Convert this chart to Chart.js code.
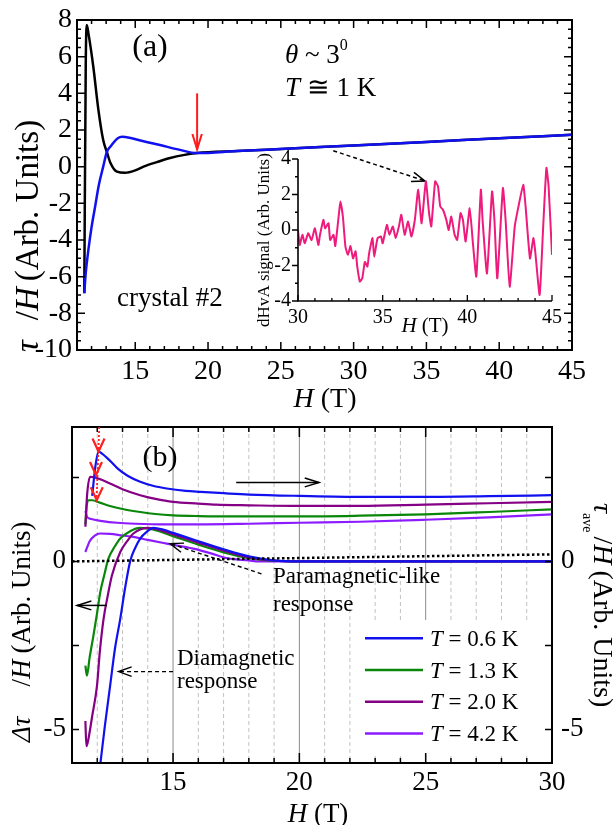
<!DOCTYPE html>
<html>
<head>
<meta charset="utf-8">
<script src="https://cdn.jsdelivr.net/npm/chart.js@4.4.1/dist/chart.umd.min.js"></script>
<style>
  html, body { margin: 0; padding: 0; background: #fff; }
  #wrap { position: relative; width: 614px; height: 825px; overflow: hidden; }
  canvas { position: absolute; }
</style>
</head>
<body>
<div id="wrap">
  <canvas id="cA" width="614" height="420" style="left:0;top:0"></canvas>
  <canvas id="cB" width="614" height="405" style="left:0;top:420px"></canvas>
  <canvas id="cI" width="330" height="200" style="left:240px;top:145px"></canvas>
</div>
<script>
// ---- panel (a): torque / H
const aBlackH = [11.5, 11.6, 11.67, 11.8, 12.12, 12.47, 12.8, 13.05, 13.3, 13.74, 14.3, 15, 15.57, 16.5, 17.4, 18.3, 19.25, 22, 26, 30, 35, 40, 45];
const aBlackV = [-6.9, 5.5, 7.73, 7.2, 5.45, 3.1, 1.45, 0.8, 0.2, -0.27, -0.33, -0.2, 0.0, 0.25, 0.47, 0.63, 0.74, 0.85, 1.0, 1.16, 1.35, 1.55, 1.74];
const aBlueH = [11.5, 11.6, 11.78, 12.0, 12.24, 12.5, 12.8, 13.05, 13.3, 13.8, 14.1, 14.6, 15.5, 16.7, 18, 19.25, 22, 26, 30, 35, 40, 45];
const aBlueV = [-6.9, -5.8, -4.55, -3.3, -2.2, -1.0, 0.0, 0.8, 1.1, 1.55, 1.63, 1.58, 1.4, 1.18, 0.93, 0.74, 0.85, 1.0, 1.16, 1.35, 1.55, 1.74];
const aXTicks = [15, 20, 25, 30, 35, 40, 45];
const aYTicks = [-10, -8, -6, -4, -2, 0, 2, 4, 6, 8];

// ---- inset: dHvA signal
const inH = [30, 30.1, 30.26, 30.4, 30.6, 30.8, 31.0, 31.2, 31.3, 31.5, 31.6, 31.8, 31.9, 32.1, 32.2, 32.4, 32.5, 32.65, 32.8, 32.95, 33.1, 33.25, 33.4, 33.5, 33.65, 33.8, 33.95, 34.1, 34.2, 34.4, 34.5, 34.7, 34.9, 35.0, 35.25, 35.4, 35.6, 35.77, 35.96, 36.1, 36.3, 36.5, 36.7, 36.9, 37.1, 37.3, 37.55, 37.74, 37.87, 38.1, 38.27, 38.4, 38.56, 38.76, 38.9, 39.05, 39.25, 39.4, 39.6, 39.74, 39.9, 40.14, 40.33, 40.53, 40.8, 40.9, 41.16, 41.46, 41.6, 41.77, 42.1, 42.26, 42.5, 42.8, 43.0, 43.3, 43.44, 43.7, 43.9, 44.0, 44.27, 44.47, 44.67, 44.8, 45.0];
const inV = [0.0, -0.84, -0.27, -0.75, -0.18, -0.56, 0.1, -0.84, -0.27, 0.57, 0.1, 0.38, -0.56, -0.27, -0.9, 0.76, 1.6, 0.76, -0.93, -1.4, -0.9, -1.6, -1.2, -2.06, -2.9, -2.7, -1.8, -2.06, -1.3, -0.46, -1.5, -0.46, -0.37, -0.75, 0.29, -0.27, 0.2, -0.46, 0.2, 0.86, -0.27, 0.48, -0.37, 0.57, 2.27, 0.38, 2.74, 0.95, 0.2, 2.74, 2.45, 1.33, 1.14, 0.57, 0.0, 0.76, -0.27, -0.56, 0.95, 0.57, -0.65, 1.23, -0.75, -2.63, 2.27, 0.57, -2.45, 2.17, 0.57, -2.72, 2.36, 0.57, -3.2, 0.2, 1.23, 2.55, 1.33, -1.6, -0.46, -1.12, -3.66, 0.0, 3.5, 2.45, -1.4];
const inXTicks = [30, 35, 40, 45];
const inYTicks = [-4, -2, 0, 2, 4];

// ---- panel (b): tau_ave/H (upper, right axis) and delta tau/H (lower, left axis)
const bTemps = ['0.6', '1.3', '2.0', '4.2'];
const up06H = [11.8, 11.92, 12.05, 12.2, 12.5, 12.8, 13.2, 13.7, 14.2, 14.75, 15.5, 16.1, 17, 18, 20, 22.5, 25, 27.5, 30];
const up06V = [1.95, 2.8, 3.27, 3.2, 3.0, 2.77, 2.55, 2.37, 2.25, 2.17, 2.1, 2.07, 2.03, 1.99, 1.95, 1.92, 1.92, 1.94, 1.97];
const up13H = [11.53, 11.58, 11.66, 11.8, 12.1, 12.5, 13, 13.7, 14.3, 15, 16, 18, 20, 22.4, 25, 27.5, 30];
const up13V = [1.1, 1.65, 1.82, 1.82, 1.75, 1.65, 1.56, 1.47, 1.41, 1.37, 1.35, 1.34, 1.34, 1.36, 1.4, 1.47, 1.55];
const up20H = [11.53, 11.6, 11.72, 11.9, 12.2, 12.5, 13.0, 13.7, 14.3, 15, 16, 16.7, 18, 20, 22.4, 25, 27.5, 30];
const up20V = [1.03, 2.0, 2.52, 2.5, 2.42, 2.32, 2.15, 1.97, 1.86, 1.77, 1.72, 1.69, 1.67, 1.65, 1.65, 1.69, 1.73, 1.77];
const up42H = [11.53, 11.6, 11.72, 12.2, 12.78, 13.5, 14.75, 16, 18, 20, 22.4, 25, 27.5, 30];
const up42V = [1.5, 1.32, 1.27, 1.2, 1.15, 1.12, 1.1, 1.1, 1.12, 1.15, 1.18, 1.24, 1.31, 1.4];
const dn06H = [12.08, 12.3, 12.51, 12.7, 12.91, 13.1, 13.3, 13.5, 13.7, 13.96, 14.22, 14.6, 15, 16, 17, 18, 19, 20, 25, 30];
const dn06V = [-6.3, -4.9, -3.7, -2.6, -1.71, -0.8, 0.0, 0.4, 0.68, 0.88, 1.0, 0.95, 0.85, 0.6, 0.36, 0.15, 0.03, 0, 0, 0];
const dn13H = [11.53, 11.59, 11.7, 11.85, 12.0, 12.12, 12.28, 12.44, 12.7, 12.91, 13.3, 13.7, 14.2, 15, 16, 17, 18, 19, 20, 25, 30];
const dn13V = [-3.1, -3.4, -2.85, -2.2, -1.5, -0.91, -0.4, 0.08, 0.45, 0.68, 0.9, 1.0, 0.95, 0.75, 0.5, 0.27, 0.1, 0.02, 0, 0, 0];
const dn20H = [11.53, 11.57, 11.62, 11.8, 11.99, 12.1, 12.25, 12.42, 12.58, 12.91, 13.2, 13.43, 14.02, 14.5, 15, 16, 17, 18, 19, 20, 25, 30];
const dn20V = [-4.75, -5.5, -5.4, -4.6, -3.7, -2.7, -1.71, -1.0, -0.42, 0.28, 0.62, 0.83, 1.0, 0.93, 0.8, 0.56, 0.32, 0.12, 0.02, 0, 0, 0];
const dn42H = [11.53, 11.7, 11.9, 12.12, 12.5, 13, 13.43, 14, 14.75, 15.8, 16.5, 17.1, 18, 18.4, 20, 25, 30];
const dn42V = [0.28, 0.6, 0.77, 0.83, 0.82, 0.77, 0.73, 0.64, 0.53, 0.38, 0.24, 0.1, 0.03, 0.0, 0, 0, 0];
const zeroH = [11, 30];
const zeroV = [0, 0.21];
const bXTicks = [15, 20, 25, 30];
const bYTicks = [-5, 0];

const SERIF = '"Liberation Serif", "DejaVu Serif", serif';
const F = (size, it) => (it ? 'italic ' : '') + size + 'px ' + SERIF;
const pts = (hs, vs) => hs.map((h, i) => ({ x: h, y: vs[i] }));
const seq = (a, b, st) => { const r = []; for (let v = a; v <= b + 1e-9; v += st) r.push(+v.toFixed(3)); return r; };

const BLUE = '#1111f0', GREEN = '#0a870a', PURPLE = '#850085', VIOLET = '#8c1cff';

Chart.defaults.font.family = SERIF;
Chart.defaults.color = '#000';

function axis(o) {
  return {
    type: 'linear', position: o.pos, min: o.min, max: o.max,
    grid: { display: false, drawTicks: false }, border: { display: false },
    afterBuildTicks: s => { s.ticks = o.labels.map(v => ({ value: v })); },
    afterFit: s => {
      if (o.w !== undefined) s.width = o.w;
      if (o.h !== undefined) s.height = o.h;
      // keep the plot area where we put it, labels may overhang
      s.paddingTop = 0; s.paddingBottom = 0; s.paddingLeft = 0; s.paddingRight = 0;
    },
    ticks: { font: { size: o.fs }, color: '#000', padding: o.pad, maxRotation: 0, autoSkip: false, callback: v => String(v) }
  };
}

function line(data, color, width, axisId) {
  return { data: data, borderColor: color, borderWidth: width, pointRadius: 0, fill: false,
           cubicInterpolationMode: 'monotone', yAxisID: axisId || 'y' };
}

function baseOpts(pad, scales) {
  return {
    responsive: false, animation: false, devicePixelRatio: 1,
    layout: { padding: pad },
    plugins: { legend: { display: false }, tooltip: { enabled: false } },
    events: [],
    scales: scales
  };
}

function rich(ctx, x, y, parts, rot, align) {
  ctx.save();
  ctx.translate(x, y);
  if (rot) ctx.rotate(rot);
  let w = 0;
  parts.forEach(p => { ctx.font = p.f; w += ctx.measureText(p.t).width + (p.gap || 0); });
  let cx = align === 'center' ? -w / 2 : 0;
  ctx.fillStyle = '#000';
  ctx.textBaseline = 'alphabetic';
  ctx.textAlign = 'left';
  parts.forEach(p => {
    ctx.font = p.f;
    ctx.fillText(p.t, cx, p.dy || 0);
    cx += ctx.measureText(p.t).width + (p.gap || 0);
  });
  ctx.restore();
}

function arrow(ctx, x1, y1, x2, y2, o) {
  ctx.save();
  ctx.strokeStyle = o.color || '#000';
  ctx.lineWidth = o.width || 1.5;
  ctx.setLineDash(o.dash || []);
  ctx.beginPath(); ctx.moveTo(x1, y1); ctx.lineTo(x2, y2); ctx.stroke();
  ctx.setLineDash([]);
  const a = Math.atan2(y2 - y1, x2 - x1), L = o.head || 13, s = o.spread || 0.33;
  ctx.beginPath();
  ctx.moveTo(x2 - L * Math.cos(a - s), y2 - L * Math.sin(a - s));
  ctx.lineTo(x2, y2);
  ctx.lineTo(x2 - L * Math.cos(a + s), y2 - L * Math.sin(a + s));
  ctx.stroke();
  ctx.restore();
}

function tickMarks(c, id, vals, len, sides) {
  const s = c.scales[id], a = c.chartArea, ctx = c.ctx;
  ctx.beginPath();
  vals.forEach(v => {
    const p = s.getPixelForValue(v);
    if (sides.includes('b')) { ctx.moveTo(p, a.bottom); ctx.lineTo(p, a.bottom - len); }
    if (sides.includes('t')) { ctx.moveTo(p, a.top); ctx.lineTo(p, a.top + len); }
    if (sides.includes('l')) { ctx.moveTo(a.left, p); ctx.lineTo(a.left + len, p); }
    if (sides.includes('r')) { ctx.moveTo(a.right, p); ctx.lineTo(a.right - len, p); }
  });
  ctx.stroke();
}

// ---------- panel (a)
const decorA = {
  id: 'decorA',
  afterDraw(c) {
    const ctx = c.ctx, a = c.chartArea, X = c.scales.x, Y = c.scales.y;
    const px = v => X.getPixelForValue(v), py = v => Y.getPixelForValue(v);
    ctx.save();
    ctx.strokeStyle = '#000';
    ctx.lineWidth = 2;
    ctx.strokeRect(a.left, a.top, a.right - a.left, a.bottom - a.top);
    ctx.lineWidth = 1.5;
    tickMarks(c, 'x', aXTicks, 8, 'bt');
    tickMarks(c, 'x', seq(12, 44, 1).filter(v => v % 5), 4, 'bt');
    tickMarks(c, 'y', aYTicks, 8, 'lr');
    tickMarks(c, 'y', seq(-9.5, 7.5, 0.5).filter(v => v % 2), 4, 'lr');

    rich(ctx, 150, 56, [{ t: '(a)', f: F(32) }], 0, 'center');
    rich(ctx, 285, 63, [{ t: 'θ', f: F(27, true) }, { t: ' ~ 3', f: F(27) }, { t: '0', f: F(16), dy: -13 }]);
    rich(ctx, 285, 96, [{ t: 'T', f: F(27, true) }, { t: ' ≅ 1 K', f: F(27) }]);
    rich(ctx, 117, 306, [{ t: 'crystal #2', f: F(27) }]);
    rich(ctx, 325, 407, [{ t: 'H', f: F(28, true) }, { t: ' (T)', f: F(28) }], 0, 'center');
    rich(ctx, 38, 352, [{ t: 'τ', f: F(33, true), gap: 20 }, { t: '/', f: F(33) }, { t: 'H', f: F(33, true), gap: 6 }, { t: '(Arb. Units)', f: F(33) }], -Math.PI / 2);

    arrow(ctx, px(19.25), py(4.0), px(19.25), py(0.95), { color: '#ff1a1a', width: 2, head: 16, spread: 0.3 });
    arrow(ctx, px(28.6), py(0.87), px(34.9), py(-0.78), { dash: [4, 3], width: 1.5, head: 14, spread: 0.35 });
    ctx.restore();
  }
};

new Chart(document.getElementById('cA'), {
  type: 'line',
  data: {
    datasets: [
      line(pts(aBlueH, aBlueV), BLUE, 2.5),
      line(pts(aBlackH, aBlackV), '#000', 2.5)
    ]
  },
  options: baseOpts({ top: 20, right: 42, left: 0, bottom: 0 }, {
    x: axis({ pos: 'bottom', min: 11, max: 45, labels: aXTicks, fs: 28, pad: 5, h: 70 }),
    y: axis({ pos: 'left', min: -10, max: 8, labels: aYTicks, fs: 28, pad: 5, w: 77 })
  }),
  plugins: [decorA]
});

// ---------- inset
const decorI = {
  id: 'decorI',
  afterDraw(c) {
    const ctx = c.ctx, a = c.chartArea;
    ctx.save();
    ctx.strokeStyle = '#000';
    ctx.lineWidth = 1.6;
    ctx.beginPath();
    ctx.moveTo(a.left, a.top); ctx.lineTo(a.left, a.bottom); ctx.lineTo(a.right, a.bottom);
    ctx.stroke();
    ctx.lineWidth = 1.3;
    tickMarks(c, 'y', inYTicks, -6, 'l');
    tickMarks(c, 'y', seq(-3, 3, 2), -3, 'l');
    tickMarks(c, 'x', inXTicks, 6, 'b');
    tickMarks(c, 'x', seq(31, 44, 1).filter(v => v % 5), 3, 'b');
    rich(ctx, 185, 187, [{ t: 'H', f: F(21, true) }, { t: ' (T)', f: F(21) }], 0, 'center');
    rich(ctx, 29, 95, [{ t: 'dHvA signal (Arb. Units)', f: F(17) }], -Math.PI / 2, 'center');
    ctx.restore();
  }
};

new Chart(document.getElementById('cI'), {
  type: 'line',
  data: {
    datasets: [{ data: pts(inH, inV), borderColor: '#ee1a7c', borderWidth: 2, pointRadius: 0, fill: false, tension: 0.15 }]
  },
  options: baseOpts({ top: 14, right: 18, left: 0, bottom: 0 }, {
    x: axis({ pos: 'bottom', min: 30, max: 45, labels: inXTicks, fs: 20, pad: 5, h: 44 }),
    y: axis({ pos: 'left', min: -4, max: 4, labels: inYTicks, fs: 20, pad: 7, w: 58 })
  }),
  plugins: [decorI]
});

// ---------- panel (b)
const bColors = [BLUE, GREEN, PURPLE, VIOLET];
const decorB = {
  id: 'decorB',
  beforeDatasetsDraw(c) {
    const ctx = c.ctx, a = c.chartArea, X = c.scales.x;
    ctx.save();
    ctx.lineWidth = 1;
    seq(12, 29, 1).forEach(v => {
      const p = X.getPixelForValue(v);
      ctx.strokeStyle = v % 5 ? '#c2c2c2' : '#8a8a8a';
      ctx.setLineDash(v % 5 ? [4, 3] : []);
      ctx.beginPath(); ctx.moveTo(p, a.top); ctx.lineTo(p, a.bottom); ctx.stroke();
    });
    ctx.setLineDash([]);
    ctx.fillStyle = '#fff';
    ctx.fillRect(360, 200, a.right - 360, 133);
    ctx.restore();
  },
  afterDraw(c) {
    const ctx = c.ctx, a = c.chartArea, X = c.scales.x, Y = c.scales.y;
    const px = v => X.getPixelForValue(v), py = v => Y.getPixelForValue(v);
    ctx.save();
    ctx.strokeStyle = '#000';
    ctx.lineWidth = 2;
    ctx.strokeRect(a.left, a.top, a.right - a.left, a.bottom - a.top);
    ctx.lineWidth = 1.5;
    tickMarks(c, 'x', bXTicks, 10, 'bt');
    tickMarks(c, 'x', seq(12, 29, 1).filter(v => v % 5), 5, 'bt');
    tickMarks(c, 'y', seq(-5, 2.5, 2.5), 7, 'lr');

    // red dotted markers at the peaks
    ctx.save();
    ctx.strokeStyle = '#ff2020';
    ctx.lineWidth = 1.8;
    ctx.setLineDash([2, 2]);
    ctx.beginPath(); ctx.moveTo(px(12.08), a.top); ctx.lineTo(px(11.97), py(1.82)); ctx.stroke();
    ctx.setLineDash([]);
    ctx.lineWidth = 2.2;
    [[12.05, 3.27], [11.95, 2.57], [11.98, 1.82]].forEach(t => {
      const x = px(t[0]), y = py(t[1]);
      ctx.beginPath(); ctx.moveTo(x - 6, y - 13); ctx.lineTo(x, y); ctx.lineTo(x + 6, y - 13); ctx.stroke();
    });
    ctx.restore();

    arrow(ctx, px(17.5), py(2.35), px(20.78), py(2.35), { width: 1.5, head: 15, spread: 0.3 });
    arrow(ctx, px(12.38), py(-1.31), px(11.2), py(-1.31), { width: 1.5, head: 15, spread: 0.3 });
    arrow(ctx, px(18.5), py(-0.37), px(14.88), py(0.53), { dash: [4, 3], width: 1.4, head: 14, spread: 0.35 });
    arrow(ctx, px(15.0), py(-3.28), px(12.84), py(-3.28), { dash: [4, 3], width: 1.4, head: 14, spread: 0.35 });

    rich(ctx, 160, 46, [{ t: '(b)', f: F(30) }], 0, 'center');
    rich(ctx, 273, 163, [{ t: 'Paramagnetic-like', f: F(23) }]);
    rich(ctx, 273, 191, [{ t: 'response', f: F(23) }]);
    rich(ctx, 177, 245, [{ t: 'Diamagnetic', f: F(23) }]);
    rich(ctx, 177, 268, [{ t: 'response', f: F(23) }]);

    // legend
    bTemps.forEach((t, i) => {
      const yc = 218.3 + i * 31.7;
      ctx.strokeStyle = bColors[i];
      ctx.lineWidth = 2.5;
      ctx.beginPath(); ctx.moveTo(365, yc); ctx.lineTo(423, yc); ctx.stroke();
      rich(ctx, 430, yc + 7.5, [{ t: 'T', f: F(23, true) }, { t: ' = ' + t + ' K', f: F(23) }]);
    });

    rich(ctx, 318, 402, [{ t: 'H', f: F(27, true) }, { t: ' (T)', f: F(27) }], 0, 'center');
    rich(ctx, 30, 322, [{ t: 'Δτ', f: F(27, true), gap: 30 }, { t: '/', f: F(27) }, { t: 'H', f: F(27, true), gap: 6 }, { t: '(Arb. Units)', f: F(27) }], -Math.PI / 2);
    rich(ctx, 594, 83, [{ t: 'τ', f: F(28, true) }, { t: 'ave', f: F(14), dy: 11, gap: 4 }, { t: '/', f: F(28) }, { t: 'H', f: F(28, true), gap: 6 }, { t: '(Arb. Units)', f: F(28) }], Math.PI / 2);
    ctx.restore();
  }
};

new Chart(document.getElementById('cB'), {
  type: 'line',
  data: {
    datasets: [
      Object.assign(line(pts(zeroH, zeroV), '#000', 2.5), { borderDash: [2.5, 2.5], cubicInterpolationMode: 'default', tension: 0 }),
      line(pts(up06H, up06V), BLUE, 2.2, 'y2'),
      line(pts(up20H, up20V), PURPLE, 2.2, 'y2'),
      line(pts(up13H, up13V), GREEN, 2.2, 'y2'),
      line(pts(up42H, up42V), VIOLET, 2.2, 'y2'),
      line(pts(dn06H, dn06V), BLUE, 2.2),
      line(pts(dn20H, dn20V), PURPLE, 2.2),
      line(pts(dn13H, dn13V), GREEN, 2.2),
      line(pts(dn42H, dn42V), VIOLET, 2.2)
    ]
  },
  options: baseOpts({ top: 7, right: 22, left: 0, bottom: 0 }, {
    x: axis({ pos: 'bottom', min: 11, max: 30, labels: bXTicks, fs: 27, pad: 4, h: 62 }),
    y: axis({ pos: 'left', min: -6, max: 4, labels: bYTicks, fs: 27, pad: 6, w: 72 }),
    y2: axis({ pos: 'right', min: -6, max: 4, labels: bYTicks, fs: 27, pad: 9, w: 40 })
  }),
  plugins: [decorB]
});
</script>
</body>
</html>
